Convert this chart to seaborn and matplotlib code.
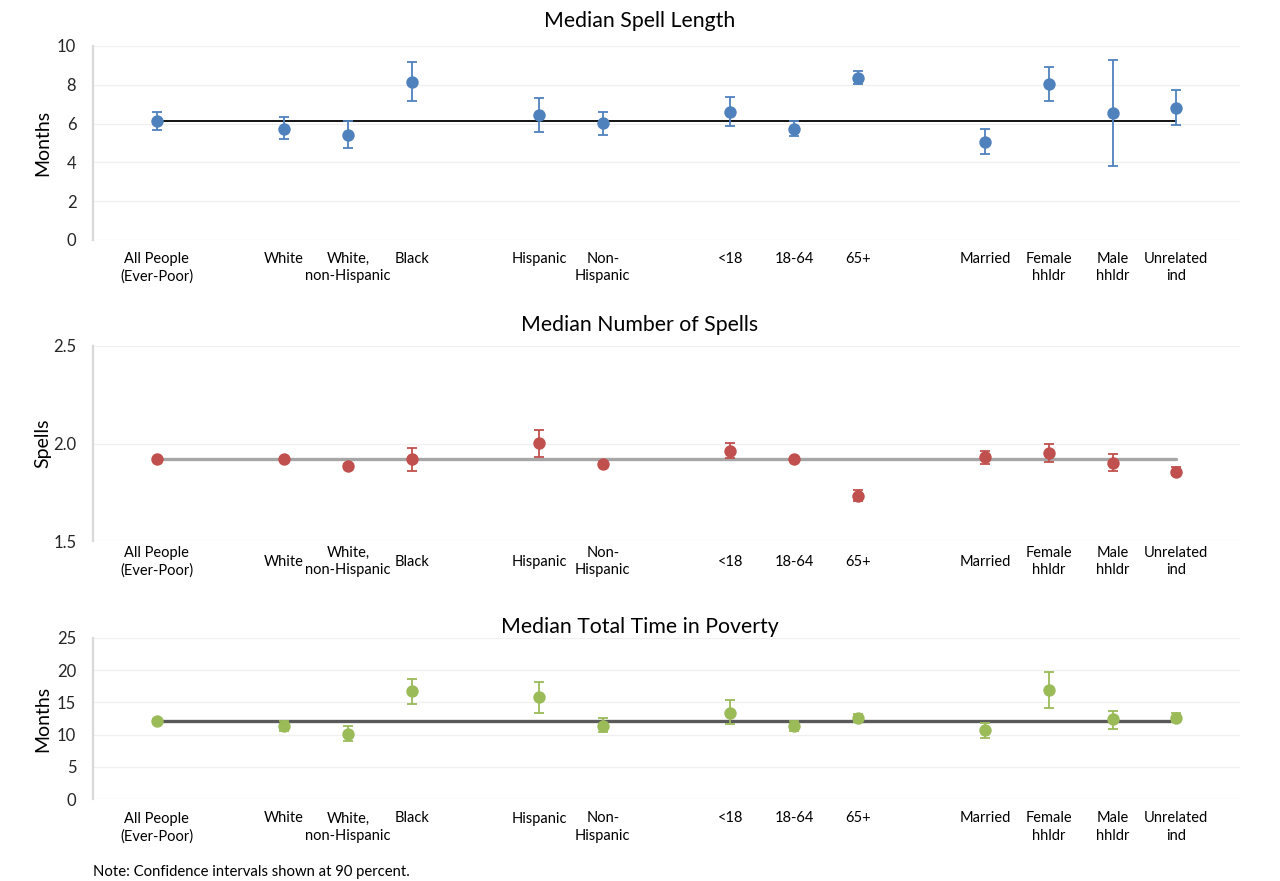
import numpy as np
import pandas as pd
import matplotlib
matplotlib.use("Agg")
import matplotlib.pyplot as plt
import seaborn as sns

# ---------------- data ----------------
groups = [
    ["All People\n(Ever-Poor)"],
    ["White", "White,\nnon-Hispanic", "Black"],
    ["Hispanic", "Non-\nHispanic"],
    ["<18", "18-64", "65+"],
    ["Married", "Female\nhhldr", "Male\nhhldr", "Unrelated\nind"],
]

spell_len    = [6.15, 5.74, 5.42, 8.14, 6.44, 6.03, 6.61, 5.74, 8.36, 5.04, 8.06, 6.54, 6.81]
spell_len_lo = [5.69, 5.20, 4.74, 7.14, 5.55, 5.43, 5.86, 5.37, 8.02, 4.41, 7.19, 3.82, 5.91]
spell_len_hi = [6.61, 6.34, 6.15, 9.15, 7.33, 6.59, 7.38, 6.15, 8.72, 5.71, 8.94, 9.30, 7.75]

num_spells    = [1.918, 1.918, 1.887, 1.921, 2.002, 1.894, 1.962, 1.918, 1.733, 1.930, 1.950, 1.901, 1.856]
num_spells_lo = [1.908, 1.908, 1.878, 1.860, 1.932, 1.885, 1.925, 1.910, 1.703, 1.896, 1.903, 1.860, 1.836]
num_spells_hi = [1.928, 1.928, 1.896, 1.976, 2.070, 1.903, 2.003, 1.926, 1.764, 1.961, 1.998, 1.947, 1.882]

total_time    = [12.16, 11.34, 10.09, 16.72, 15.79, 11.34, 13.41, 11.28, 12.63, 10.66, 16.98, 12.37, 12.63]
total_time_lo = [11.80, 10.56, 8.95, 14.80, 13.35, 10.35, 11.59, 10.50, 11.90, 9.42, 14.18, 10.92, 11.96]
total_time_hi = [12.50, 12.10, 11.39, 18.69, 18.22, 12.53, 15.37, 12.06, 13.25, 11.85, 19.77, 13.72, 13.30]

titles = ["Median Spell Length", "Median Number of Spells", "Median Total Time in Poverty"]
ylabels = ["Months", "Spells", "Months"]
note = "Note: Confidence intervals shown at 90 percent."

# ---------------- layout helpers ----------------
labels, positions = [], []
p = 1
for g in groups:
    for lab in g:
        labels.append(lab)
        positions.append(p)
        p += 1
    p += 1
xmax = p - 1

sns.set_theme(style="white")
plt.rcParams["font.family"] = ["Lato", "DejaVu Sans"]

W, H = 1280, 881
fig = plt.figure(figsize=(W / 100, H / 100), dpi=100)

def axrect(left, top, right, bottom):
    return [left / W, 1 - bottom / H, (right - left) / W, (bottom - top) / H]

panels = [
    dict(rect=axrect(93, 46, 1240, 240), vals=spell_len, lo=spell_len_lo, hi=spell_len_hi,
         ylim=(0, 10), ticks=[0, 2, 4, 6, 8, 10], fmt="{:.0f}", color="#4F81BD",
         line_color="#000000", line_w=1.3, title_y=21, lab_va="top", lab_pad=8.5),
    dict(rect=axrect(93, 346, 1240, 541), vals=num_spells, lo=num_spells_lo, hi=num_spells_hi,
         ylim=(1.5, 2.5), ticks=[1.5, 2.0, 2.5], fmt="{:.1f}", color="#C0504D",
         line_color="#A6A6A6", line_w=2.4, title_y=325, lab_va="center", lab_pad=15.0),
    dict(rect=axrect(93, 638, 1240, 799), vals=total_time, lo=total_time_lo, hi=total_time_hi,
         ylim=(0, 25), ticks=[0, 5, 10, 15, 20, 25], fmt="{:.0f}", color="#9BBB59",
         line_color="#595959", line_w=2.4, title_y=627, lab_va="top", lab_pad=9.0),
]

for i, pn in enumerate(panels):
    ax = fig.add_axes(pn["rect"])
    df = pd.DataFrame({"x": positions, "y": pn["vals"], "lo": pn["lo"], "hi": pn["hi"]})

    # reference line at the "All People" value
    ref = pd.DataFrame({"x": [positions[0], positions[-1]], "y": [pn["vals"][0]] * 2})
    sns.lineplot(data=ref, x="x", y="y", ax=ax, color=pn["line_color"], lw=pn["line_w"], zorder=2)

    ax.errorbar(df["x"], df["y"], yerr=[df["y"] - df["lo"], df["hi"] - df["y"]], fmt="none",
                ecolor=pn["color"], elinewidth=1.3, capsize=3.5, capthick=1.3, zorder=3)
    sns.scatterplot(data=df, x="x", y="y", ax=ax, color=pn["color"], s=80,
                    linewidth=0, zorder=4)

    ax.set_xlim(0, xmax)
    ax.set_ylim(*pn["ylim"])
    ax.set_yticks(pn["ticks"])
    ax.set_yticklabels([pn["fmt"].format(t) for t in pn["ticks"]], fontsize=12, color="#262626")
    ax.set_xticks(positions)
    ax.set_xticklabels(labels, fontsize=10.5, color="#000000", linespacing=1.3,
                       va=pn["lab_va"])
    ax.tick_params(axis="both", length=0)
    ax.tick_params(axis="y", pad=12)
    ax.tick_params(axis="x", pad=pn["lab_pad"])
    ax.grid(axis="y", color="#F0F0F0", lw=1)
    ax.grid(axis="x", visible=False)
    for s in ["top", "right", "bottom"]:
        ax.spines[s].set_visible(False)
    ax.spines["left"].set_color("#D9D9D9")
    ax.spines["left"].set_linewidth(1.6)
    ax.set_xlabel("")
    ax.set_ylabel(ylabels[i], fontsize=14, color="#000000")
    ax.yaxis.set_label_coords(-0.036, 0.5)
    ax.set_axisbelow(True)

    fig.text(0.5, 1 - pn["title_y"] / H, titles[i], ha="center", va="center",
             fontsize=15.3, color="#000000")

fig.text(93 / W, 1 - 872 / H, note, ha="left", va="center", fontsize=10.7, color="#000000")

fig.savefig("out.png", dpi=100, facecolor="white")
